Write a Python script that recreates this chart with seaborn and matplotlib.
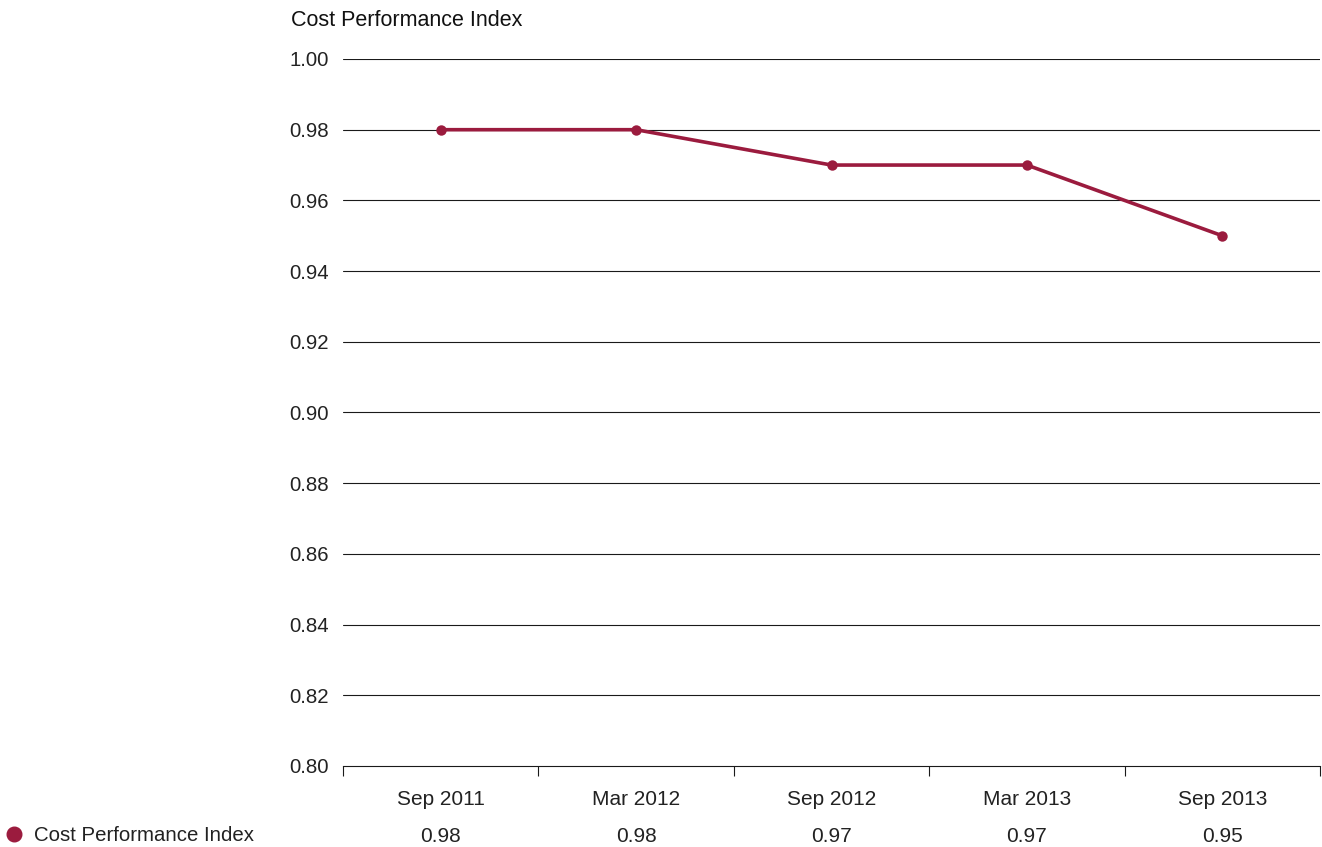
import numpy as np
import pandas as pd
import matplotlib.pyplot as plt
import seaborn as sns
from matplotlib.lines import Line2D

# === DATA ===
periods = ["Sep 2011", "Mar 2012", "Sep 2012", "Mar 2013", "Sep 2013"]
cpi_values = [0.98, 0.98, 0.97, 0.97, 0.95]
y_ticks = [0.80, 0.82, 0.84, 0.86, 0.88, 0.90, 0.92, 0.94, 0.96, 0.98, 1.00]
series_name = "Cost Performance Index"

LINE_COLOR = "#9b1b3e"
TEXT_COLOR = "#222222"
GRID_COLOR = "#1a1a1a"

sns.set_style("white")
plt.rcParams["font.family"] = ["Liberation Sans", "DejaVu Sans"]

df = pd.DataFrame({"pos": np.arange(len(periods)), "cpi": cpi_values})

fig = plt.figure(figsize=(13.22, 8.47), dpi=100)
ax = fig.add_axes([343 / 1322, 81 / 847, 977 / 1322, 707 / 847])

for y in y_ticks[1:]:
    ax.axhline(y, color=GRID_COLOR, lw=0.8, zorder=1)

sns.lineplot(data=df, x="pos", y="cpi", ax=ax, color=LINE_COLOR, lw=2.6,
             marker="o", markersize=7.5, markeredgewidth=0, zorder=3)

ax.set_xlim(-0.5, len(periods) - 0.5)
ax.set_ylim(0.80, 1.00)
ax.set_yticks(y_ticks)
ax.set_yticklabels([f"{v:.2f}" for v in y_ticks], fontsize=14.7, color=TEXT_COLOR)
ax.set_xticks(np.arange(-0.5, len(periods)))
ax.set_xticklabels([])
ax.tick_params(axis="x", bottom=True, direction="out", length=7, width=0.8,
               color=GRID_COLOR)
ax.tick_params(axis="y", left=False, length=0, pad=10.5)
ax.set_xlabel("")
ax.set_ylabel("")
for side in ["top", "right", "left"]:
    ax.spines[side].set_visible(False)
ax.spines["bottom"].set_color(GRID_COLOR)
ax.spines["bottom"].set_linewidth(0.8)

# category labels and data table row
for i, (p, v) in enumerate(zip(periods, cpi_values)):
    ax.text(i, -0.048, p, transform=ax.get_xaxis_transform(), ha="center",
            va="center", fontsize=15, color=TEXT_COLOR)
    ax.text(i, -0.1, f"{v:.2f}", transform=ax.get_xaxis_transform(), ha="center",
            va="center", fontsize=15, color=TEXT_COLOR)

fig.text(291 / 1322, 1 - 20 / 847, series_name, ha="left", va="center",
         fontsize=15.5, color="#111111")

fig.add_artist(Line2D([14 / 1322], [1 - 834 / 847], transform=fig.transFigure,
                      marker="o", markersize=10.5, color=LINE_COLOR, lw=0))
fig.text(34 / 1322, 1 - 835 / 847, series_name, ha="left", va="center",
         fontsize=14.7, color=TEXT_COLOR)

fig.savefig("out.png", dpi=100)
